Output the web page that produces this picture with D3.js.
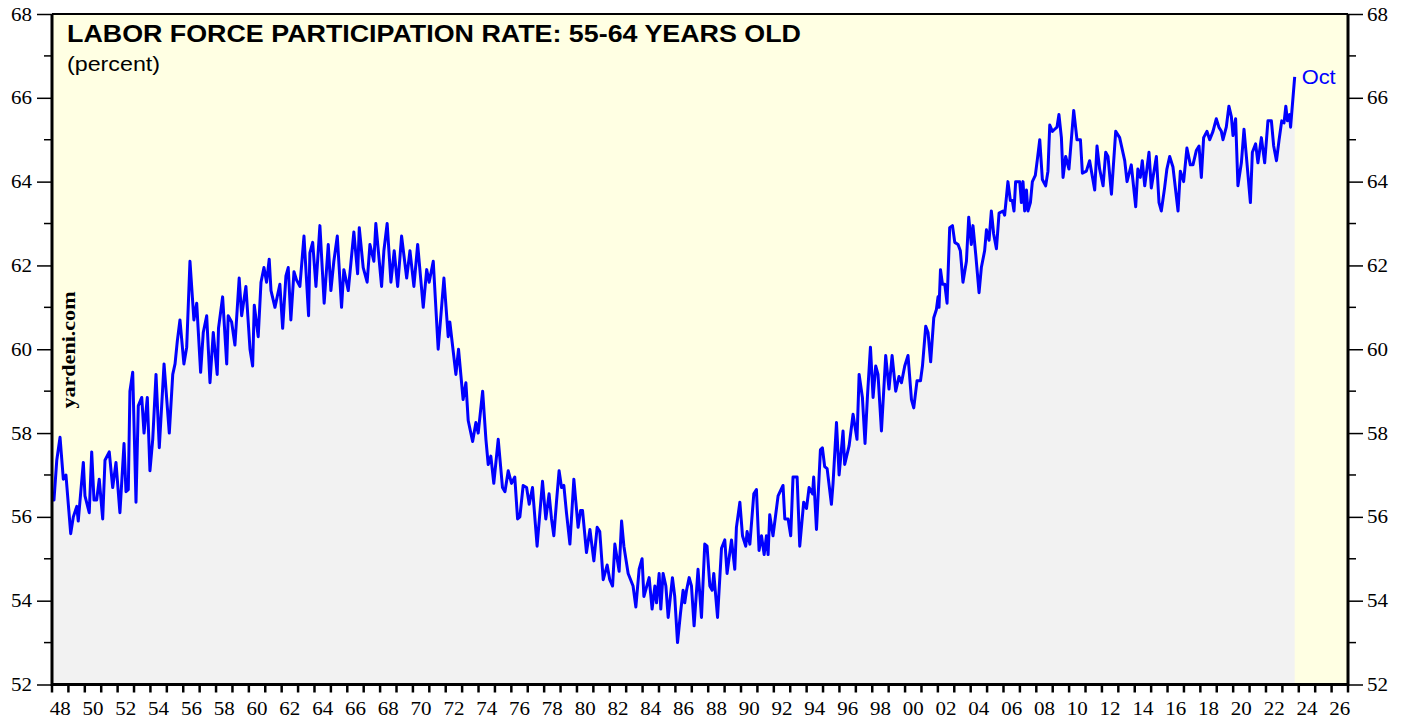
<!DOCTYPE html>
<html>
<head>
<meta charset="utf-8">
<script src="https://cdn.jsdelivr.net/npm/d3@7"></script>
<style>
  body { margin: 0; background: #fff; }
  svg { display: block; }
</style>
</head>
<body>
<div id="chart"></div>
<script>
// monthly readings, [decimal year, percent]
const rate1940s = [[1948.04,56.4],[1948.12,56.4],[1948.29,57.35],[1948.49,57.9],[1948.69,56.9],[1948.85,57.0],[1949.14,55.6],[1949.30,56.0],[1949.51,56.25],[1949.60,55.9],[1949.91,57.3]];
const rate1950s = [[1950.01,56.5],[1950.27,56.1],[1950.42,57.55],[1950.56,56.4],[1950.72,56.4],[1950.88,56.9],[1951.09,55.95],[1951.23,57.35],[1951.49,57.55],[1951.70,56.7],[1951.90,57.3],[1952.14,56.1],[1952.39,57.75],[1952.51,56.6],[1952.65,56.65],[1952.75,59.0],[1952.92,59.45],[1953.12,56.35],[1953.26,58.65],[1953.47,58.85],[1953.61,58.0],[1953.81,58.85],[1953.97,57.1],[1954.14,57.85],[1954.34,59.4],[1954.54,57.65],[1954.83,59.65],[1955.15,58.0],[1955.36,59.4],[1955.50,59.65],[1955.64,60.2],[1955.80,60.7],[1956.04,59.65],[1956.21,60.05],[1956.41,62.1],[1956.65,60.7],[1956.82,61.1],[1957.06,59.45],[1957.22,60.4],[1957.43,60.8],[1957.63,59.2],[1957.83,60.4],[1958.07,59.4],[1958.15,60.5],[1958.40,61.25],[1958.65,59.65],[1958.74,60.8],[1958.95,60.65],[1959.15,60.1],[1959.41,61.7],[1959.56,60.8],[1959.82,61.5]];
const rate1960s = [[1960.07,60.0],[1960.23,59.6],[1960.33,61.05],[1960.57,60.3],[1960.74,61.6],[1960.92,61.95],[1961.08,61.6],[1961.24,62.15],[1961.35,61.4],[1961.59,61.0],[1961.89,61.55],[1962.06,60.5],[1962.26,61.75],[1962.40,61.95],[1962.56,60.7],[1962.75,61.85],[1962.91,61.65],[1963.11,61.5],[1963.36,62.7],[1963.64,60.8],[1963.72,62.3],[1963.89,62.55],[1964.09,61.5],[1964.33,62.95],[1964.59,61.1],[1964.84,62.5],[1965.00,61.4],[1965.18,62.1],[1965.39,62.7],[1965.65,61.0],[1965.79,61.9],[1966.06,61.4],[1966.40,62.8],[1966.63,61.8],[1966.73,62.9],[1966.97,61.95],[1967.21,61.6],[1967.38,62.5],[1967.62,62.1],[1967.74,63.0],[1968.09,61.5],[1968.23,62.35],[1968.43,63.0],[1968.66,61.6],[1968.86,62.35],[1969.07,61.5],[1969.31,62.7],[1969.62,61.7],[1969.82,62.35]];
const rate1970s = [[1970.06,61.5],[1970.29,62.5],[1970.63,61.0],[1970.84,61.9],[1970.99,61.6],[1971.24,62.1],[1971.54,60.0],[1971.89,61.7],[1972.15,60.3],[1972.25,60.65],[1972.62,59.4],[1972.78,60.0],[1973.06,58.8],[1973.23,59.2],[1973.37,58.3],[1973.64,57.8],[1973.84,58.25],[1973.98,58.0],[1974.25,59.0],[1974.45,57.85],[1974.59,57.25],[1974.75,57.45],[1974.93,56.8],[1975.20,57.85],[1975.46,56.7],[1975.61,56.6],[1975.81,57.1],[1976.01,56.8],[1976.21,56.95],[1976.38,55.95],[1976.52,56.0],[1976.72,56.75],[1976.93,56.7],[1977.09,56.3],[1977.29,56.7],[1977.57,55.3],[1977.90,56.85],[1978.10,55.95],[1978.30,56.55],[1978.45,55.95],[1978.59,55.55],[1978.76,56.4],[1978.91,57.1],[1979.06,56.7],[1979.20,56.75],[1979.36,56.1],[1979.57,55.35],[1979.81,56.9]];
const rate1980s = [[1980.07,55.75],[1980.22,56.15],[1980.34,56.15],[1980.58,55.15],[1980.79,55.7],[1981.03,54.95],[1981.23,55.75],[1981.39,55.65],[1981.60,54.5],[1981.84,54.85],[1982.00,54.5],[1982.17,54.35],[1982.31,55.35],[1982.57,54.7],[1982.72,55.9],[1982.86,55.3],[1983.12,54.65],[1983.42,54.35],[1983.59,53.85],[1983.79,54.75],[1983.97,55.0],[1984.08,54.1],[1984.40,54.55],[1984.58,53.8],[1984.75,54.35],[1984.85,53.95],[1985.01,54.65],[1985.11,53.8],[1985.25,54.65],[1985.42,54.35],[1985.56,53.6],[1985.82,54.55],[1985.96,54.1],[1986.13,53.0],[1986.31,53.7],[1986.47,54.25],[1986.57,53.95],[1986.68,54.25],[1986.84,54.55],[1986.98,54.35],[1987.14,53.4],[1987.38,54.75],[1987.59,53.6],[1987.79,55.35],[1987.93,55.3],[1988.10,54.35],[1988.24,54.25],[1988.34,54.65],[1988.57,53.6],[1988.81,55.25],[1989.01,55.45],[1989.15,54.65],[1989.42,55.45],[1989.62,54.75],[1989.72,55.75],[1989.93,56.35]];
const rate1990s = [[1990.09,55.55],[1990.29,55.3],[1990.37,55.65],[1990.54,55.35],[1990.78,56.55],[1990.94,56.65],[1991.10,55.2],[1991.25,55.55],[1991.41,55.1],[1991.55,55.55],[1991.65,55.1],[1991.75,56.05],[1991.95,55.55],[1992.26,56.5],[1992.56,56.75],[1992.67,55.95],[1992.87,55.95],[1993.03,55.55],[1993.17,56.95],[1993.42,56.95],[1993.58,55.3],[1993.82,56.35],[1993.99,56.2],[1994.15,56.7],[1994.36,56.55],[1994.43,56.95],[1994.60,55.7],[1994.84,57.6],[1994.96,57.65],[1995.10,57.2],[1995.25,57.15],[1995.51,56.3],[1995.61,56.8],[1995.82,58.25],[1995.98,57.0],[1996.22,58.05],[1996.32,57.25],[1996.59,57.7],[1996.83,58.45],[1997.07,57.85],[1997.20,59.4],[1997.40,58.85],[1997.56,57.75],[1997.71,58.9],[1997.89,60.05],[1998.05,58.85],[1998.21,59.6],[1998.35,59.4],[1998.56,58.05],[1998.82,59.85],[1999.02,59.05],[1999.21,59.85],[1999.43,59.0],[1999.63,59.35],[1999.78,59.2],[1999.98,59.6]];
const rate2000s = [[2000.18,59.85],[2000.39,58.8],[2000.53,58.6],[2000.73,59.25],[2000.94,59.25],[2001.06,59.6],[2001.26,60.55],[2001.40,60.4],[2001.56,59.7],[2001.75,60.75],[2001.91,60.95],[2002.01,61.25],[2002.07,61.0],[2002.16,61.9],[2002.28,61.55],[2002.42,61.55],[2002.56,61.1],[2002.72,62.9],[2002.89,62.95],[2003.03,62.55],[2003.23,62.5],[2003.37,62.35],[2003.53,61.6],[2003.74,62.1],[2003.88,63.15],[2004.04,62.5],[2004.14,62.95],[2004.31,62.25],[2004.51,61.35],[2004.65,61.95],[2004.85,62.35],[2004.96,62.85],[2005.12,62.6],[2005.26,63.3],[2005.40,62.75],[2005.57,62.4],[2005.73,63.25],[2005.97,63.3],[2006.07,63.2],[2006.27,64.0],[2006.42,63.55],[2006.54,63.55],[2006.64,63.3],[2006.74,64.0],[2006.99,64.0],[2007.09,63.5],[2007.19,64.0],[2007.29,63.3],[2007.40,63.8],[2007.49,63.3],[2007.64,63.5],[2007.76,64.0],[2007.94,64.15],[2008.07,64.55],[2008.21,65.0],[2008.37,64.05],[2008.57,63.9],[2008.71,64.25],[2008.82,65.35],[2008.98,65.2],[2009.12,65.25],[2009.26,65.3],[2009.38,65.6],[2009.53,65.05],[2009.63,64.1],[2009.79,64.6],[2009.99,64.3]];
const rate2010s = [[2010.28,65.7],[2010.48,65.0],[2010.69,65.0],[2010.81,64.2],[2011.05,64.25],[2011.25,64.5],[2011.56,63.8],[2011.70,64.85],[2011.86,64.3],[2012.07,63.9],[2012.23,64.7],[2012.37,64.6],[2012.58,63.7],[2012.84,65.2],[2013.08,65.05],[2013.39,64.5],[2013.53,64.0],[2013.79,64.4],[2014.06,63.4],[2014.19,64.3],[2014.34,64.1],[2014.46,64.5],[2014.61,63.9],[2014.87,64.7],[2015.01,63.85],[2015.32,64.6],[2015.48,63.5],[2015.62,63.3],[2015.82,63.85],[2015.96,64.3],[2016.13,64.6],[2016.33,64.35],[2016.64,63.3],[2016.78,64.25],[2016.98,64.0],[2017.18,64.8],[2017.39,64.4],[2017.55,64.4],[2017.76,64.75],[2017.92,64.85],[2018.06,64.1],[2018.20,65.05],[2018.40,65.2],[2018.57,65.0],[2018.77,65.2],[2018.97,65.5],[2019.13,65.3],[2019.28,65.2],[2019.38,65.0],[2019.58,65.3],[2019.74,65.8],[2019.89,65.55],[2019.99,65.1]];
const rate2020s = [[2020.15,65.5],[2020.29,63.9],[2020.50,64.45],[2020.66,65.25],[2020.84,64.45],[2021.05,63.5],[2021.17,64.7],[2021.37,64.9],[2021.51,64.45],[2021.72,65.05],[2021.92,64.45],[2022.12,65.45],[2022.33,65.45],[2022.47,64.85],[2022.64,64.5],[2022.80,65.0],[2022.96,65.45],[2023.10,65.4],[2023.21,65.8],[2023.31,65.45],[2023.44,65.6],[2023.50,65.3],[2023.75,66.5]];

// axis labels
const yTicks = [52, 54, 56, 58, 60, 62, 64, 66, 68];
const yMinorTicks = [53, 55, 57, 59, 61, 63, 65, 67];
const xLabels = ["48","50","52","54","56","58","60","62","64","66","68","70","72","74","76","78","80","82","84","86","88","90","92","94","96","98","00","02","04","06","08","10","12","14","16","18","20","22","24","26"];
const xLabelYears = [1948,1950,1952,1954,1956,1958,1960,1962,1964,1966,1968,1970,1972,1974,1976,1978,1980,1982,1984,1986,1988,1990,1992,1994,1996,1998,2000,2002,2004,2006,2008,2010,2012,2014,2016,2018,2020,2022,2024,2026];
const lastLabel = "Oct";

const width = 1408;
const height = 719;
const plot = { left: 52, right: 1348, top: 14, bottom: 684.5 };

const data = [].concat(rate1940s, rate1950s, rate1960s, rate1970s, rate1980s, rate1990s, rate2000s, rate2010s, rate2020s)
    .map(d => ({ year: d[0], value: d[1] }));

const x = d3.scaleLinear().domain([1948, 2027]).range([plot.left, plot.right]);
const y = d3.scaleLinear().domain([52, 68]).range([plot.bottom, plot.top]);

const svg = d3.select('#chart').append('svg')
    .attr('width', width)
    .attr('height', height);

// plot background
svg.append('rect')
    .attr('x', plot.left).attr('y', plot.top)
    .attr('width', plot.right - plot.left)
    .attr('height', plot.bottom - plot.top)
    .attr('fill', '#ffffe3');

// grey area under line
const area = d3.area()
    .x(d => x(d.year))
    .y0(y(52))
    .y1(d => y(d.value));

svg.append('path')
    .datum(data)
    .attr('d', area)
    .attr('fill', '#f2f2f2');

const line = d3.line()
    .x(d => x(d.year))
    .y(d => y(d.value));

svg.append('path')
    .datum(data)
    .attr('d', line)
    .attr('fill', 'none')
    .attr('stroke', '#0000ff')
    .attr('stroke-width', 3)
    .attr('stroke-linejoin', 'round');

// frame
svg.append('line').attr('x1', plot.left).attr('x2', plot.right).attr('y1', plot.top).attr('y2', plot.top)
    .attr('stroke', '#000').attr('stroke-width', 2);
svg.append('line').attr('x1', plot.left).attr('x2', plot.right).attr('y1', plot.bottom).attr('y2', plot.bottom)
    .attr('stroke', '#000').attr('stroke-width', 3);
svg.append('line').attr('x1', plot.left).attr('x2', plot.left).attr('y1', plot.top).attr('y2', plot.bottom + 1.5)
    .attr('stroke', '#000').attr('stroke-width', 3);
svg.append('line').attr('x1', plot.right).attr('x2', plot.right).attr('y1', plot.top).attr('y2', plot.bottom + 1.5)
    .attr('stroke', '#000').attr('stroke-width', 3);

// y axes, both sides
const axisLeft = d3.axisLeft(y).tickValues(yTicks).tickSize(15).tickPadding(5).tickFormat(d3.format('d'));
const axisRight = d3.axisRight(y).tickValues(yTicks).tickSize(15).tickPadding(4).tickFormat(d3.format('d'));

function styleAxis(g) {
    g.select('.domain').remove();
    g.selectAll('.tick line').attr('stroke', '#000').attr('stroke-width', 1.5);
    g.selectAll('.tick text')
        .attr('fill', '#000')
        .style('font-family', '"Liberation Serif", "Times New Roman", serif')
        .style('font-size', '19px')
        .attr('textLength', 21)
        .attr('lengthAdjust', 'spacingAndGlyphs');
}

svg.append('g').attr('transform', `translate(${plot.left},0)`).call(axisLeft).call(styleAxis);
svg.append('g').attr('transform', `translate(${plot.right},0)`).call(axisRight).call(styleAxis);

// minor y ticks
svg.append('g').selectAll('line')
    .data(yMinorTicks)
    .join('line')
    .attr('x1', plot.left - 8).attr('x2', plot.left)
    .attr('y1', d => y(d)).attr('y2', d => y(d))
    .attr('stroke', '#000').attr('stroke-width', 1.5);
svg.append('g').selectAll('line')
    .data(yMinorTicks)
    .join('line')
    .attr('x1', plot.right).attr('x2', plot.right + 8)
    .attr('y1', d => y(d)).attr('y2', d => y(d))
    .attr('stroke', '#000').attr('stroke-width', 1.5);

// x axis: yearly ticks, labels centred in the year
const yearTicks = d3.range(1948, 2028);
svg.append('g').selectAll('line')
    .data(yearTicks)
    .join('line')
    .attr('x1', d => x(d)).attr('x2', d => x(d))
    .attr('y1', plot.bottom).attr('y2', plot.bottom + 8)
    .attr('stroke', '#000').attr('stroke-width', 2.5);

svg.append('g').selectAll('text')
    .data(xLabels)
    .join('text')
    .attr('x', (d, i) => x(xLabelYears[i] + 0.5))
    .attr('y', 715)
    .attr('text-anchor', 'middle')
    .style('font-family', '"Liberation Serif", "Times New Roman", serif')
    .style('font-size', '19px')
    .attr('textLength', 21)
    .attr('lengthAdjust', 'spacingAndGlyphs')
    .text(d => d);

// titles
svg.append('text')
    .attr('x', 67).attr('y', 42)
    .style('font-family', '"Liberation Sans", Arial, sans-serif')
    .style('font-weight', 'bold')
    .style('font-size', '23px')
    .attr('textLength', 734)
    .attr('lengthAdjust', 'spacingAndGlyphs')
    .text('LABOR FORCE PARTICIPATION RATE: 55-64 YEARS OLD');

svg.append('text')
    .attr('x', 67).attr('y', 71)
    .style('font-family', '"Liberation Sans", Arial, sans-serif')
    .style('font-size', '20px')
    .attr('textLength', 93)
    .attr('lengthAdjust', 'spacingAndGlyphs')
    .text('(percent)');

// watermark
svg.append('text')
    .attr('transform', 'translate(75,350) rotate(-90)')
    .attr('text-anchor', 'middle')
    .style('font-family', '"Liberation Serif", "Times New Roman", serif')
    .style('font-weight', 'bold')
    .style('font-size', '18px')
    .attr('textLength', 117)
    .attr('lengthAdjust', 'spacingAndGlyphs')
    .text('yardeni.com');

// last value label
const last = data[data.length - 1];
svg.append('text')
    .attr('x', x(last.year) + 7)
    .attr('y', y(last.value) + 7)
    .attr('fill', '#0000ff')
    .style('font-family', '"Liberation Sans", Arial, sans-serif')
    .style('font-size', '20px')
    .attr('textLength', 34)
    .attr('lengthAdjust', 'spacingAndGlyphs')
    .text(lastLabel);
</script>
</body>
</html>
